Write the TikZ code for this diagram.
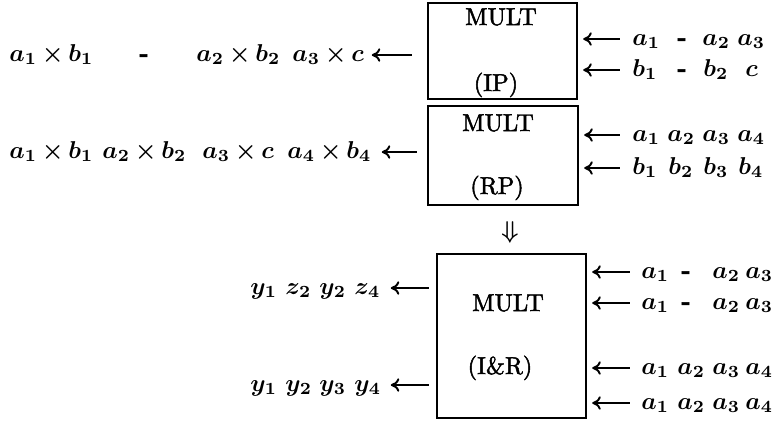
\documentclass[tikz,border=0pt]{standalone}
\usepackage{fontspec}
\setmainfont{Latin Modern Roman}[FakeBold=2]
\usetikzlibrary{arrows.meta,calc}
\newlength\pxu \setlength\pxu{0.41pt}
\newcommand\tk[2]{\makebox[0pt][l]{\hspace*{#1\pxu}#2}}
\newcommand\hy{\mbox{\bfseries -}}
\newcommand\tightx{\medmuskip=3mu\relax}
\begin{document}
\begin{tikzpicture}[x=0.41pt,y=-0.41pt,
  blk/.style={draw,line width=1pt,inner sep=0pt},
  lbl/.style={anchor=base,inner sep=0pt},
  row/.style={anchor=base west,inner sep=0pt,font=\boldmath},
  prod/.style={row,font=\boldmath\tightx},
  arr/.style={{Computer Modern Rightarrow[length=3.5pt,width=5.5pt]}-,line width=0.8pt}]
\useasboundingbox (0,0) rectangle (774,422);
% boxes
\node[blk,minimum width=149\pxu,minimum height=96\pxu] (ip) at (502.5,51) {};
\node[blk,minimum width=150\pxu,minimum height=99\pxu] (rp) at (503,155.5) {};
\node[blk,minimum width=149\pxu,minimum height=164\pxu] (ir) at (511.5,336) {};
% box labels
\node[lbl] (ipm) at (501,25) {MULT};
\node[lbl] (ipn) at (496,91) {(IP)};
\node[lbl] (rpm) at (498,131) {MULT};
\node[lbl] (rpn) at (497,194) {(RP)};
\node[lbl] (irm) at (508,311) {MULT};
\node[lbl] (irn) at (500,374) {(I\&R)};
\node[inner sep=0pt,font=\boldmath] (dn) at (510,232) {$\Downarrow$};
% right inputs
\node[row] (ipa) at (632,45) {\tk{0}{$a_1$}\tk{45}{\hy}\tk{70}{$a_2$}\hspace*{105\pxu}$a_3$};
\node[row] (ipb) at (632,76) {\tk{0}{$b_1$}\tk{45}{\hy}\tk{71}{$b_2$}\hspace*{113\pxu}$c$};
\node[row] (rpa) at (632,141) {\tk{0}{$a_1$}\tk{35}{$a_2$}\tk{70}{$a_3$}\hspace*{105\pxu}$a_4$};
\node[row] (rpb) at (632,174) {\tk{0}{$b_1$}\tk{36}{$b_2$}\tk{71}{$b_3$}\hspace*{106\pxu}$b_4$};
\node[row] (ira) at (641,278) {\tk{0}{$a_1$}\tk{40}{\hy}\tk{71}{$a_2$}\hspace*{104\pxu}$a_3$};
\node[row] (irb) at (641,309) {\tk{0}{$a_1$}\tk{40}{\hy}\tk{71}{$a_2$}\hspace*{104\pxu}$a_3$};
\node[row] (irc) at (641,374) {\tk{0}{$a_1$}\tk{36}{$a_2$}\tk{71}{$a_3$}\hspace*{104\pxu}$a_4$};
\node[row] (ird) at (641,409) {\tk{0}{$a_1$}\tk{36}{$a_2$}\tk{71}{$a_3$}\hspace*{104\pxu}$a_4$};
% left outputs
\node[prod] (ipo) at (9,61) {\tk{0}{$a_1\times b_1$}\tk{130}{\hy}\tk{187}{$a_2\times b_2$}\hspace*{283\pxu}$a_3\times c$};
\node[prod] (rpo) at (9,158) {\tk{0}{$a_1\times b_1$}\tk{93}{$a_2\times b_2$}\tk{193}{$a_3\times c$}\hspace*{278\pxu}$a_4\times b_4$};
\node[row] (iro) at (250,294) {\tk{0}{$y_1$}\tk{35}{$z_2$}\tk{69}{$y_2$}\hspace*{104\pxu}$z_4$};
\node[row] (irp) at (250,391) {\tk{0}{$y_1$}\tk{35}{$y_2$}\tk{69}{$y_3$}\hspace*{104\pxu}$y_4$};
% input arrows
\foreach \t/\b/\d in {ipa/ip/12,ipb/ip/12,rpa/rp/12,rpb/rp/12,ira/ir/11,irb/ir/11,irc/ir/11,ird/ir/11}
  \draw[arr] ($(\b.east |- \t.base)+(5,-6)$) -- ($(\t.base west)+(-\d,-6)$);
% output arrows
\draw[arr] ($(ip.west |- ipo.base)+(-55,-6)$) -- ($(ip.west |- ipo.base)+(-15,-6)$);
\draw[arr] ($(rp.west |- rpo.base)+(-45,-6)$) -- ($(rp.west |- rpo.base)+(-10,-6)$);
\draw[arr] ($(ir.west |- iro.base)+(-45,-6)$) -- ($(ir.west |- iro.base)+(-7,-6)$);
\draw[arr] ($(ir.west |- irp.base)+(-45,-6)$) -- ($(ir.west |- irp.base)+(-7,-6)$);
\end{tikzpicture}
\end{document}
